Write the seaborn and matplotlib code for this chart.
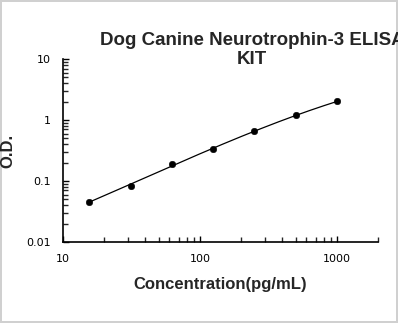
import numpy as np
import pandas as pd
import matplotlib
matplotlib.use("Agg")
import matplotlib.pyplot as plt
import seaborn as sns
from matplotlib.ticker import LogLocator, FixedLocator, FixedFormatter, NullFormatter

# Standard curve data
concentration = [15.625, 31.25, 62.5, 125, 250, 500, 1000]
od = [0.046, 0.083, 0.192, 0.335, 0.652, 1.19, 2.02]

x_ticks = [10, 100, 1000]
x_tick_labels = ["10", "100", "1000"]
y_ticks = [0.01, 0.1, 1, 10]
y_tick_labels = ["0.01", "0.1", "1", "10"]

title = "Dog Canine Neurotrophin-3 ELISA\nKIT"
x_label = "Concentration(pg/mL)"
y_label = "O.D."

sns.set_style("white")

df = pd.DataFrame({"conc": concentration, "od": od})

# Smooth fitted curve in log-log space
lx = np.log10(df["conc"])
ly = np.log10(df["od"])
coef = np.polyfit(lx, ly, 3)
fx = np.linspace(lx.min(), lx.max(), 200)
fit = pd.DataFrame({"conc": 10 ** fx, "od": 10 ** np.polyval(coef, fx)})

fig = plt.figure(figsize=(3.98, 3.23), dpi=100)
fig.patch.set_edgecolor("#d0d0d0")
fig.patch.set_linewidth(1.5)
ax = fig.add_axes([0.158, 0.251, 0.792, 0.566])

sns.lineplot(data=fit, x="conc", y="od", ax=ax, color="black", linewidth=0.9)
sns.scatterplot(data=df, x="conc", y="od", ax=ax, color="black", s=22, edgecolor="black", zorder=3)

ax.set_xscale("log")
ax.set_yscale("log")
ax.set_xlim(10, 2000)
ax.set_ylim(0.01, 10)

ax.xaxis.set_major_locator(FixedLocator(x_ticks))
ax.xaxis.set_major_formatter(FixedFormatter(x_tick_labels))
ax.yaxis.set_major_locator(FixedLocator(y_ticks))
ax.yaxis.set_major_formatter(FixedFormatter(y_tick_labels))
ax.xaxis.set_minor_locator(LogLocator(base=10, subs=np.arange(2, 10)))
ax.yaxis.set_minor_locator(LogLocator(base=10, subs=np.arange(2, 10)))
ax.xaxis.set_minor_formatter(NullFormatter())
ax.yaxis.set_minor_formatter(NullFormatter())

ax.tick_params(axis="both", which="major", direction="in", length=4.5, width=1,
               labelsize=8, pad=9, colors="black")
ax.tick_params(axis="both", which="minor", direction="in", length=3.5, width=1)
ax.tick_params(axis="y", which="both", left=True, right=False)
ax.tick_params(axis="x", which="both", bottom=True, top=False)

for side in ["top", "right"]:
    ax.spines[side].set_visible(False)
for side in ["left", "bottom"]:
    ax.spines[side].set_color("black")
    ax.spines[side].set_linewidth(1.2)

ax.set_xlabel(x_label, fontsize=12, fontweight="bold", family="Liberation Sans", labelpad=9)
ax.set_ylabel(y_label, fontsize=12, fontweight="bold", family="Liberation Sans")
ax.yaxis.set_label_coords(-0.15, 0.5)

fig.text(0.633, 0.79, title, ha="center", va="bottom", fontsize=13.5,
         fontweight="bold", family="Liberation Sans", linespacing=1.15)

fig.savefig("out.png", dpi=100)
